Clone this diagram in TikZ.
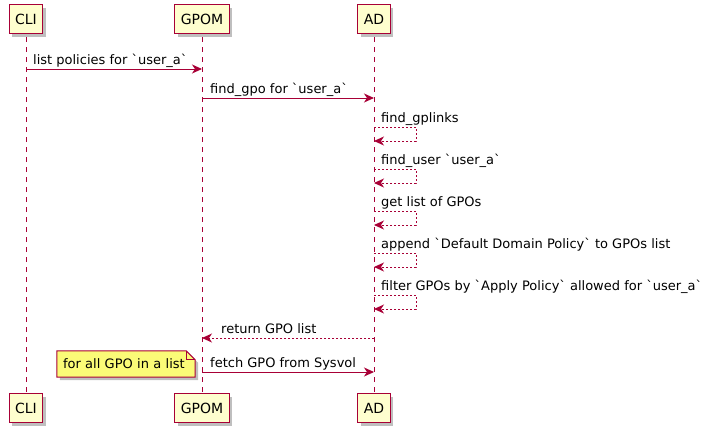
\documentclass[tikz,border=0pt]{standalone}
\usepackage{fontspec}
\setmainfont{DejaVu Sans}
\usetikzlibrary{arrows.meta,shadows,backgrounds}

\definecolor{umlred}{HTML}{A80036}
\definecolor{umlbox}{HTML}{FEFECE}
\definecolor{umlnote}{HTML}{FBFB77}

\newcommand{\bq}{\textasciigrave}

\tikzset{
  part/.style={draw=umlred, fill=umlbox, line width=1.2pt, minimum height=29pt,
    inner xsep=6pt, font=\fontsize{14}{16}\selectfont,
    drop shadow={shadow xshift=3pt, shadow yshift=-3pt, fill=black, opacity=0.25}},
  lifeline/.style={umlred, line width=1pt, dash pattern=on 5pt off 5pt, shorten <=3pt},
  msg/.style={umlred, line width=1pt, -{Stealth[length=10pt,width=9pt,inset=3pt]}},
  selfmsg/.style={msg, dash pattern=on 2pt off 2pt},
  retmsg/.style={msg, dash pattern=on 2pt off 2pt},
  lbl/.style={anchor=base west, inner sep=0pt, font=\fontsize{13}{15}\selectfont},
  notetext/.style={inner xsep=6pt, inner ysep=0pt, minimum height=26pt, text width=126pt,
    align=left, font=\fontsize{13}{15}\selectfont},
  notebox/.style={draw=umlred, fill=umlnote, line width=1pt,
    drop shadow={shadow xshift=3pt, shadow yshift=-3pt, fill=black, opacity=0.25}}
}

\begin{document}
\begin{tikzpicture}[x=1pt, y=-1pt]
\useasboundingbox (0,0) rectangle (714,434);

% Participants, top and bottom
\node[part] (cliT) at (26,19) {CLI};
\node[part] (gpomT) at (202,19) {GPOM};
\node[part] (adT) at (374,19) {AD};
\node[part] (cliB) at (26,408) {CLI};
\node[part] (gpomB) at (202,408) {GPOM};
\node[part] (adB) at (374,408) {AD};

% Lifelines
\draw[lifeline] (cliT) -- (cliB);
\draw[lifeline] (gpomT) -- (gpomB);
\draw[lifeline] (adT) -- (adB);

% list policies
\coordinate (cli1) at (26,69);
\coordinate (gpom1) at (202,69);
\draw[msg] (cli1) -- (gpom1);
\node[lbl] (lbl1) at ([xshift=7pt, yshift=5pt]cli1) {list policies for \bq{}user\_a\bq};

% find_gpo
\coordinate (gpom2) at (202,98);
\coordinate (ad2) at (374,98);
\draw[msg] (gpom2) -- (ad2);
\node[lbl] (lbl2) at ([xshift=8pt, yshift=5pt]gpom2) {find\_gpo for \bq{}user\_a\bq};

% Self calls on AD
\coordinate (ad3) at (374,127);
\coordinate (ad3e) at (374,141);
\draw[selfmsg] (ad3) -- ++(42,0) |- (ad3e);
\node[lbl] (lbl3) at ([xshift=7pt, yshift=5pt]ad3) {find\_gplinks};

\coordinate (ad4) at (374,169);
\coordinate (ad4e) at (374,183);
\draw[selfmsg] (ad4) -- ++(42,0) |- (ad4e);
\node[lbl] (lbl4) at ([xshift=7pt, yshift=5pt]ad4) {find\_user \bq{}user\_a\bq};

\coordinate (ad5) at (374,211);
\coordinate (ad5e) at (374,225);
\draw[selfmsg] (ad5) -- ++(42,0) |- (ad5e);
\node[lbl] (lbl5) at ([xshift=7pt, yshift=5pt]ad5) {get list of GPOs};

\coordinate (ad6) at (374,253);
\coordinate (ad6e) at (374,267);
\draw[selfmsg] (ad6) -- ++(42,0) |- (ad6e);
\node[lbl] (lbl6) at ([xshift=7pt, yshift=5pt]ad6) {append \bq{}Default Domain Policy\bq{} to GPOs list};

\coordinate (ad7) at (374,295);
\coordinate (ad7e) at (374,309);
\draw[selfmsg] (ad7) -- ++(42,0) |- (ad7e);
\node[lbl] (lbl7) at ([xshift=7pt, yshift=5pt]ad7) {filter GPOs by \bq{}Apply Policy\bq{} allowed for \bq{}user\_a\bq};

% return GPO list
\coordinate (ad8) at (374,338);
\coordinate (gpom8) at (202,338);
\draw[retmsg] (ad8) -- (gpom8);
\node[lbl] (lbl8) at ([xshift=19pt, yshift=5pt]gpom8) {return GPO list};

% fetch from Sysvol
\coordinate (gpom9) at (202,372);
\coordinate (ad9) at (374,372);
\draw[msg] (gpom9) -- (ad9);
\node[lbl] (lbl9) at ([xshift=8pt, yshift=5pt]gpom9) {fetch GPO from Sysvol};

% Note
\node[notetext] (note) at (126,364) {for all GPO in a list};
\begin{scope}[on background layer]
\draw[notebox] (note.north west) -- ([xshift=-9pt]note.north east)
  -- ([yshift=-9pt]note.north east) -- (note.south east) -- (note.south west) -- cycle;
\draw[umlred, line width=1pt] ([xshift=-9pt]note.north east) |- ([yshift=-9pt]note.north east);
\end{scope}

\end{tikzpicture}
\end{document}
